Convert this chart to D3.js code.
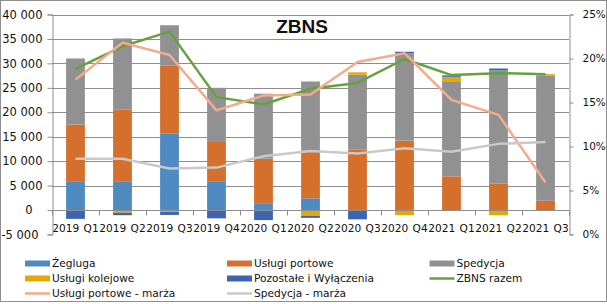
<!DOCTYPE html>
<html lang="pl">
<head>
    <meta charset="UTF-8">
    <title>ZBNS</title>
    <script src="https://d3js.org/d3.v7.min.js" charset="utf-8"></script>
    <style>
        body {
            margin: 0;
            background: white;
            font-family: "DejaVu Sans", Verdana, sans-serif;
        }
        svg text { fill: #111; }
        .title { font-family: "Liberation Sans", Arial, sans-serif; font-weight: bold; font-size: 19px; }
    </style>
</head>
<body>
<script>
    // data
    var quarters = ["2019 Q1", "2019 Q2", "2019 Q3", "2019 Q4", "2020 Q1", "2020 Q2",
                    "2020 Q3", "2020 Q4", "2021 Q1", "2021 Q2", "2021 Q3"];
    var zegluga   = [5900, 5900, 15700, 5900, 1400, 2400, 0, 0, 0, 0, 0];
    var portowe   = [11600, 14700, 13900, 8200, 9100, 9600, 12350, 14200, 6900, 5450, 1900];
    var spedycja  = [13500, 14500, 8200, 10900, 13300, 14300, 15350, 17900, 19450, 23100, 25650];
    var kolejowe  = [0, -550, -400, -150, -200, -1200, 470, -1050, 900, -1050, 250];
    var pozostale = [-1800, -500, -600, -1550, -1850, -400, -1900, 280, 300, 400, 0];
    var zbnsRazem = [28900, 33500, 36500, 23100, 21600, 24800, 26000, 30900, 27600, 28000, 27800];
    var portoweMarza  = [0.176, 0.218, 0.204, 0.141, 0.158, 0.159, 0.196, 0.206, 0.153, 0.136, 0.059];
    var spedycjaMarza = [0.086, 0.086, 0.075, 0.076, 0.089, 0.095, 0.092, 0.098, 0.094, 0.103, 0.105];

    var leftTicks  = [-5000, 0, 5000, 10000, 15000, 20000, 25000, 30000, 35000, 40000];
    var rightTicks = [0, 0.05, 0.10, 0.15, 0.20, 0.25];

    var barKeys   = ["Żegluga", "Usługi portowe", "Spedycja", "Usługi kolejowe", "Pozostałe i Wyłączenia"];
    var barSeries = [zegluga, portowe, spedycja, kolejowe, pozostale];
    var barColors = ["#4f8bc1", "#d56f2c", "#919191", "#e2a900", "#3c64b1"];

    var width = 607, height = 304;
    var gridColor = "#8d8d8d";

    var svg = d3.select("body").append("svg")
        .attr("width", width)
        .attr("height", height);

    // chart border
    svg.append("rect")
        .attr("x", 0.5).attr("y", 0.5)
        .attr("width", width - 1).attr("height", 301)
        .attr("fill", "white")
        .attr("stroke", gridColor);

    var x = d3.scaleBand()
        .domain(quarters)
        .range([52, 569])
        .paddingInner(0.6)
        .paddingOuter(0.3);

    var y = d3.scaleLinear().domain([-5000, 40000]).range([234.5, 14.5]);
    var y2 = d3.scaleLinear().domain([0, 0.25]).range([234.5, 14.5]);

    // horizontal gridlines
    svg.append("g").selectAll("line")
        .data(leftTicks.filter(function (d) { return d > 0; }))
        .enter().append("line")
        .attr("x1", 52).attr("x2", 569)
        .attr("y1", function (d) { return Math.round(y(d)) + 0.5; })
        .attr("y2", function (d) { return Math.round(y(d)) + 0.5; })
        .attr("stroke", gridColor);

    // stacked bars
    var rows = quarters.map(function (q, i) {
        var r = { q: q };
        barKeys.forEach(function (k, j) { r[k] = barSeries[j][i]; });
        return r;
    });
    var stack = d3.stack().keys(barKeys).offset(d3.stackOffsetDiverging);
    var layers = stack(rows);

    svg.append("g").selectAll("g")
        .data(layers)
        .enter().append("g")
        .attr("fill", function (d, i) { return barColors[i]; })
        .selectAll("rect")
        .data(function (d) { return d; })
        .enter().append("rect")
        .attr("x", function (d) { return x(d.data.q); })
        .attr("width", x.bandwidth())
        .attr("y", function (d) { return y(Math.max(d[0], d[1])); })
        .attr("height", function (d) { return Math.abs(y(d[0]) - y(d[1])); });

    // x axis at zero
    var xAxis = svg.append("g")
        .attr("transform", "translate(0," + (Math.round(y(0)) + 0.5) + ")");
    xAxis.append("line")
        .attr("x1", 52).attr("x2", 569)
        .attr("stroke", gridColor);
    xAxis.selectAll(".tk")
        .data(d3.range(quarters.length + 1))
        .enter().append("line")
        .attr("x1", function (i) { return Math.round(52 + i * x.step()) + 0.5; })
        .attr("x2", function (i) { return Math.round(52 + i * x.step()) + 0.5; })
        .attr("y1", 0).attr("y2", 5)
        .attr("stroke", gridColor);
    xAxis.selectAll("text")
        .data(quarters)
        .enter().append("text")
        .attr("x", function (d) { return x(d) + x.bandwidth() / 2; })
        .attr("y", 21.5)
        .attr("text-anchor", "middle")
        .style("font-size", "10.6px")
        .style("word-spacing", "1px")
        .text(function (d) { return d; });

    // left axis
    var fmt = function (d) { return d3.format(",")(d).replace(/,/g, "\u00a0").replace("−", "-"); };
    var leftAxis = svg.append("g")
        .attr("transform", "translate(52.5,0)")
        .call(d3.axisLeft(y).tickValues(leftTicks).tickSize(5).tickPadding(5).tickFormat(fmt));
    leftAxis.select(".domain").attr("stroke", gridColor);
    leftAxis.selectAll(".tick line").attr("stroke", gridColor);
    leftAxis.selectAll(".tick text")
        .style("font-size", "11.5px")
        .style("font-family", "DejaVu Sans")
        .attr("fill", "#111")
        .attr("dx", function (d) { return d === 0 ? -10 : (d < 0 ? -4 : 0); });

    // right axis
    var rightAxis = svg.append("g")
        .attr("transform", "translate(569.5,0)")
        .call(d3.axisRight(y2).tickValues(rightTicks).tickSize(4).tickPadding(9).tickFormat(d3.format(".0%")));
    rightAxis.select(".domain").attr("stroke", gridColor);
    rightAxis.selectAll(".tick line").attr("stroke", gridColor);
    rightAxis.selectAll(".tick text")
        .style("font-size", "10.5px")
        .style("font-family", "DejaVu Sans")
        .attr("fill", "#111");

    // lines
    var cx = function (d, i) { return x(quarters[i]) + x.bandwidth() / 2; };
    var lineLeft = d3.line().x(cx).y(function (d) { return y(d); });
    var lineRight = d3.line().x(cx).y(function (d) { return y2(d); });

    svg.append("path")
        .attr("d", lineLeft(zbnsRazem))
        .attr("fill", "none").attr("stroke", "#66a13d")
        .attr("stroke-width", 2.5).attr("stroke-linejoin", "round");
    svg.append("path")
        .attr("d", lineRight(portoweMarza))
        .attr("fill", "none").attr("stroke", "#f3ab8d")
        .attr("stroke-width", 2.5).attr("stroke-linejoin", "round");
    svg.append("path")
        .attr("d", lineRight(spedycjaMarza))
        .attr("fill", "none").attr("stroke", "#c9c9c9")
        .attr("stroke-width", 2.5).attr("stroke-linejoin", "round");

    // title
    svg.append("text")
        .attr("class", "title")
        .attr("x", 302).attr("y", 33)
        .attr("text-anchor", "middle")
        .text("ZBNS");

    // legend
    var legendNames = ["Żegluga", "Usługi portowe", "Spedycja",
                       "Usługi kolejowe", "Pozostałe i Wyłączenia", "ZBNS razem",
                       "Usługi portowe - marża", "Spedycja - marża"];
    var legendColors = ["#4f8bc1", "#d56f2c", "#919191", "#e2a900", "#3c64b1", "#66a13d", "#f3ab8d", "#c9c9c9"];
    var legendIsLine = [false, false, false, false, false, true, true, true];
    var colX = [25, 227, 429.5];

    var leg = svg.append("g").selectAll("g")
        .data(legendNames)
        .enter().append("g")
        .attr("transform", function (d, i) {
            return "translate(" + colX[i % 3] + "," + (263.5 + Math.floor(i / 3) * 15) + ")";
        });
    leg.append("rect")
        .attr("x", 0)
        .attr("y", function (d, i) { return legendIsLine[i] ? -1.25 : -3; })
        .attr("width", 25)
        .attr("height", function (d, i) { return legendIsLine[i] ? 2.5 : 6; })
        .attr("fill", function (d, i) { return legendColors[i]; });
    leg.append("text")
        .attr("x", 27)
        .attr("y", 0)
        .attr("dy", "0.36em")
        .style("font-size", "10.6px")
        .text(function (d) { return d; });
</script>
</body>
</html>
